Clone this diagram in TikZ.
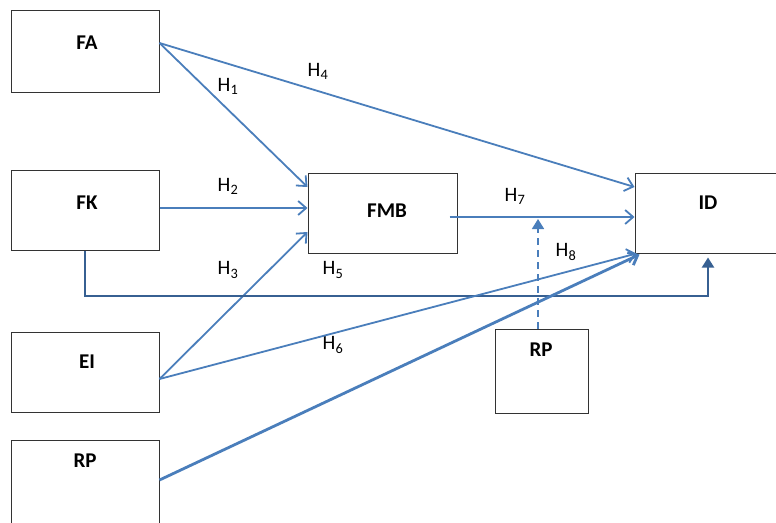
\documentclass[tikz,border=0pt]{standalone}
\usepackage{fontspec}
\setmainfont{Carlito}
\usetikzlibrary{arrows.meta,positioning}
\definecolor{linkblue}{RGB}{74,126,187}
\definecolor{linkdark}{RGB}{55,96,146}

\begin{document}
\begin{tikzpicture}[
    x=1pt, y=-1pt,
    every node/.style={font=\fontsize{20.5}{24}\selectfont},
    varbox/.style={rectangle, draw=black!80, line width=1pt, inner sep=0pt},
    varname/.style={font=\fontsize{21}{24}\selectfont\bfseries, inner sep=0pt},
    hyp/.style={inner sep=0pt},
    arr/.style={-{Straight Barb[length=8pt,width=14pt]}, line width=1.8pt, draw=linkblue},
    arrthick/.style={-{Straight Barb[length=8pt,width=14pt]}, line width=2.8pt, draw=linkblue},
    arrdark/.style={-{Triangle[length=10pt,width=12pt]}, line width=2pt, draw=linkdark},
    arrmod/.style={-{Triangle[length=10pt,width=12pt]}, line width=1.6pt, draw=linkblue, dash pattern=on 7pt off 5pt},
]
\useasboundingbox (0,0) rectangle (776,522);

\node[varbox, minimum width=148pt, minimum height=82pt] (fa)  at (85,51)    {};
\node[varbox, minimum width=148pt, minimum height=80pt] (fk)  at (85,210)   {};
\node[varbox, minimum width=148pt, minimum height=80pt] (ei)  at (85,372)   {};
\node[varbox, minimum width=148pt, minimum height=100pt] (rp) at (85,490)   {};
\node[varbox, minimum width=149pt, minimum height=80pt] (fmb) at (382.5,213) {};
\node[varbox, minimum width=146pt, minimum height=80pt] (id)  at (708,213)  {};
\node[varbox, minimum width=93pt,  minimum height=84pt] (rp2) at (541.5,371) {};

\node[varname] (fa-l)  at (87,43)   {FA};
\node[varname] (fk-l)  at (87,203)  {FK};
\node[varname] (ei-l)  at (87,362)  {EI};
\node[varname] (rp-l)  at (85,461)  {RP};
\node[varname] (fmb-l) at (387,211) {FMB};
\node[varname] (id-l)  at (708,203) {ID};
\node[varname] (rp2-l) at (541,350) {RP};

\node[hyp] (h1) at (228,86)  {H\textsubscript{1}};
\node[hyp] (h2) at (228,186) {H\textsubscript{2}};
\node[hyp] (h3) at (228,270) {H\textsubscript{3}};
\node[hyp] (h4) at (318,71)  {H\textsubscript{4}};
\node[hyp] (h5) at (333,270) {H\textsubscript{5}};
\node[hyp] (h6) at (333,345) {H\textsubscript{6}};
\node[hyp] (h7) at (515,196) {H\textsubscript{7}};
\node[hyp] (h8) at (566,252) {H\textsubscript{8}};

\coordinate (mod) at (538,219);

\draw[arr] ([yshift=8pt]fa.east) -- ([yshift=26pt]fmb.west);
\draw[arr] ([yshift=8pt]fa.east) -- ([yshift=26pt]id.west);
\draw[arr] ([yshift=2pt]fk.east) -- ([yshift=2pt]fk.east -| fmb.west);
\draw[arr] ([yshift=-7pt]ei.east) -- ([yshift=-19pt]fmb.west);
\draw[arrdark] (fk.south) -- ++(0,45) -| ([yshift=-4pt]id.south);
\draw[arr] ([yshift=-7pt]ei.east) -- ([xshift=2pt]id.south west);
\draw[arr] ([xshift=-8pt,yshift=-4pt]fmb.east) -- ([yshift=-4pt]id.west);
\draw[arrmod] (rp2.north -| mod) -- (mod);
\draw[arrthick] ([yshift=10pt]rp.east) -- ([xshift=5pt,yshift=-1pt]id.south west);

\end{tikzpicture}
\end{document}
